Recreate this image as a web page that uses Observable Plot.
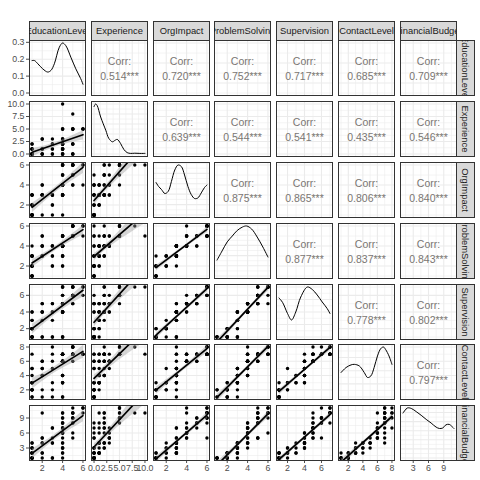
<!DOCTYPE html>
<html>
<head>
<meta charset="utf-8">
<script src="https://cdn.jsdelivr.net/npm/d3@7"></script>
<script src="https://cdn.jsdelivr.net/npm/@observablehq/plot@0.6"></script>
<style>
html,body{margin:0;padding:0;background:#fff;}
#chart{position:relative;width:480px;height:480px;overflow:hidden;background:#fff;}
#chart svg{position:absolute;max-width:none;overflow:visible;background:none;}
</style>
</head>
<body>
<div id="chart"></div>
<script>
// ---- data (66 jobs) ----
const names = ["EducationLevel","Experience","OrgImpact","ProblemSolving","Supervision","ContactLevel","FinancialBudget"];
const educationLevel = [1,1,1,1,1,1,1,1,1,1,1,1,1,1,1, 2,2,2,2,2,2,2,2, 3,3,3,3,3,3,3, 4,4,4,4,4,4,4,4,4,4,4,4,4,4,4,4,4,4,4,4,4,4, 5,5,5,5,5,5,5,5,5,5,5, 6,6,6];
const experience = [0,0,0,0,0,0,1,0,1,0,1,2,1,2,0, 0,0,1,1,3,0,1,3, 0,0,1,2,3,1,2, 0,0,1,0,1,2,1,2,2,1,3,2,0,3,2,1,5,3,5,2,10,5, 0,2,0,2,5,5,2,8,5,5,0, 5,5,5];
const orgImpact = [1,1,1,1,1,1,2,1,2,2,3,3,3,3,2, 1,3,3,3,3,3,4,4, 1,2,2,3,3,3,3, 1,3,3,3,3,3,3,3,4,4,4,4,4,5,5,4,5,6,6,6,6,6, 4,5,5,5,6,6,6,6,6,6,4, 4,6,6];
const problemSolving = [1,1,1,1,2,2,2,2,2,3,3,3,3,4,3, 3,3,3,4,4,4,5,5, 2,2,3,3,4,4,4, 2,2,3,3,3,3,4,4,4,4,4,4,4,4,4,4,5,5,5,5,5,5, 5,5,5,5,5,6,6,6,6,6,6, 5,6,6];
const supervision = [1,1,1,1,1,2,2,2,2,2,3,3,4,4,2, 1,1,3,4,4,4,5,5, 1,1,3,4,4,5,5, 1,1,1,4,4,4,4,4,4,4,5,5,5,5,5,5,5,6,6,7,7,7, 5,6,6,6,6,6,7,7,7,7,5, 6,7,7];
const contactLevel = [1,1,2,2,2,2,2,3,3,3,3,4,5,7,5, 1,2,4,4,5,5,6,6, 1,2,3,5,6,7,8, 1,1,3,3,3,4,4,4,6,6,6,6,6,6,6,7,7,7,7,7,7,7, 6,7,7,7,7,8,7,8,8,8,7, 7,7,7];
const financialBudget = [1,1,1,1,2,1,2,2,2,3,2,3,4,4,3, 1,2,2,4,4,5,10,5, 1,1,4,4,5,7,7, 1,2,2,3,3,4,4,3,6,6,6,7,7,7,8,8,9,5,9,10,10,8, 5,8,8,9,9,9,10,10,10,11,6, 11,11,10];

// correlation labels, upper triangle, row by row
const corrLabels = ["0.514***","0.720***","0.752***","0.717***","0.685***","0.709***",
  "0.639***","0.544***","0.541***","0.435***","0.546***",
  "0.875***","0.865***","0.806***","0.840***",
  "0.877***","0.837***","0.843***",
  "0.778***","0.802***",
  "0.797***"];

// axis tick values
const ticksEducationLevel = [2,4,6];
const ticksExperience = [0,2.5,5,7.5,10];
const ticksOrgImpact = [2,4,6];
const ticksProblemSolving = [2,4,6];
const ticksSupervision = [2,4,6];
const ticksContactLevel = [2,4,6,8];
const ticksFinancialBudget = [3,6,9];

// diagonal density curves: [value, density]
const densEducationLevel = [[1,0.192],[1.24,0.192],[1.57,0.173],[2.05,0.143],[2.54,0.124],[2.86,0.134],[3.19,0.173],[3.68,0.271],[4.0,0.296],[4.32,0.28],[4.81,0.212],[5.3,0.143],[5.78,0.085],[6,0.052]];
const densExperience = [[0,0.237],[0.3,0.25],[0.6,0.243],[1.3,0.185],[2.3,0.119],[2.9,0.078],[3.6,0.061],[4.1,0.068],[4.55,0.073],[5.2,0.053],[5.85,0.023],[6.5,0.007],[7.2,0.003],[8,0.004],[9,0.003],[10,0.003]];
const densOrgImpact = [[1,0.156],[1.25,0.137],[1.54,0.122],[1.87,0.103],[2.19,0.113],[2.51,0.161],[2.84,0.216],[3.16,0.24],[3.48,0.233],[3.8,0.192],[4.13,0.137],[4.46,0.098],[4.79,0.079],[5.11,0.082],[5.44,0.106],[5.76,0.132],[6,0.144]];
const densProblemSolving = [[1,0.078],[1.5,0.123],[2,0.167],[2.5,0.196],[2.98,0.223],[3.5,0.24],[3.9,0.245],[4.4,0.23],[4.94,0.191],[5.5,0.142],[6,0.093]];
const densSupervision = [[1,0.156],[1.42,0.138],[2.0,0.094],[2.47,0.068],[2.97,0.1],[3.56,0.16],[4.34,0.2],[4.92,0.19],[5.5,0.168],[6.09,0.14],[6.67,0.114],[7,0.094]];
const densContactLevel = [[1,0.093],[1.69,0.112],[2.38,0.122],[2.83,0.124],[3.51,0.118],[4.19,0.093],[4.65,0.074],[5.1,0.08],[5.55,0.112],[6.01,0.156],[6.46,0.184],[6.83,0.19],[7.14,0.18],[7.59,0.156],[8,0.124]];
const densFinancialBudget = [[1,0.099],[1.84,0.11],[2.62,0.109],[3.59,0.102],[4.56,0.094],[5.54,0.085],[6.51,0.077],[7.49,0.068],[8.13,0.065],[8.79,0.066],[9.43,0.073],[10.08,0.074],[10.54,0.07],[11,0.065]];

// ---- build ----
const cols = [educationLevel, experience, orgImpact, problemSolving, supervision, contactLevel, financialBudget];
const tickSets = [ticksEducationLevel, ticksExperience, ticksOrgImpact, ticksProblemSolving, ticksSupervision, ticksContactLevel, ticksFinancialBudget];
const densSets = [densEducationLevel, densExperience, densOrgImpact, densProblemSolving, densSupervision, densContactLevel, densFinancialBudget];
const data = educationLevel.map((_, i) => Object.fromEntries(names.map((n, k) => [n, cols[k][i]])));
const doms = cols.map(v => { const [a, b] = d3.extent(v); const p = 0.05 * (b - a); return [a - p, b + p]; });
const fmts = names.map(n => n === "Experience" ? d3.format(".1f") : d3.format("d"));

const chart = document.getElementById("chart");
const FONT = "'Liberation Sans', Arial, Helvetica, sans-serif";
const PW = 56, PH = 55;
const L = d3.range(7).map(c => Math.round(28 + 61.8 * c) + 0.5);
const T = d3.range(7).map(r => Math.round(39.3 + 60.8 * r) + 0.5);
const baseStyle = {fontFamily: FONT, fontSize: "8.8px", color: "#4d4d4d", background: "none", overflow: "visible"};

function put(svg, x, y) {
  svg.style.position = "absolute";
  svg.style.left = x + "px";
  svg.style.top = y + "px";
  chart.appendChild(svg);
}
function minors(t, d) {
  const s = t[1] - t[0];
  return [t[0] - s / 2, ...t.map(v => v + s / 2)].filter(v => v > d[0] && v < d[1]);
}
function grid(xt, xd, yt, yd) {
  const g = "#ebebeb";
  return [
    Plot.ruleX(minors(xt, xd), {stroke: g, strokeWidth: 0.55}),
    Plot.ruleY(minors(yt, yd), {stroke: g, strokeWidth: 0.55}),
    Plot.ruleX(xt.filter(v => v >= xd[0] && v <= xd[1]), {stroke: g, strokeWidth: 1.1}),
    Plot.ruleY(yt.filter(v => v >= yd[0] && v <= yd[1]), {stroke: g, strokeWidth: 1.1})
  ];
}

let k = 0;
const corrIndex = {};
for (let r = 0; r < 7; r++) for (let c = r + 1; c < 7; c++) corrIndex[r + "," + c] = k++;

for (let r = 0; r < 7; r++) {
  for (let c = 0; c < 7; c++) {
    const xn = names[c], yn = names[r];
    const xd = doms[c], xt = tickSets[c];
    let yd, yt, yf, marks;
    if (r === c) {
      const dens = densSets[c];
      const m = d3.max(dens, d => d[1]);
      yd = [-0.05 * m, 1.05 * m];
      yt = d3.ticks(0, yd[1], 4);
      yf = d3.format(".1f");
      marks = [...grid(xt, xd, yt, yd),
        Plot.line(dens, {x: d => d[0], y: d => d[1], curve: "catmull-rom", stroke: "black", strokeWidth: 1})];
    } else if (r < c) {
      yd = doms[r]; yt = tickSets[r]; yf = fmts[r];
      const lab = corrLabels[corrIndex[r + "," + c]];
      marks = [...grid(xt, xd, yt, yd),
        Plot.text(["Corr:"], {frameAnchor: "middle", text: d => d, dy: -6.5, fontSize: 10.5, fill: "#7a7672"}),
        Plot.text([lab], {frameAnchor: "middle", text: d => d, dy: 8.5, fontSize: 10.5, fill: "#7a7672"})];
    } else {
      yd = doms[r]; yt = tickSets[r]; yf = fmts[r];
      marks = [...grid(xt, xd, yt, yd),
        Plot.dot(data, {x: xn, y: yn, r: 1.7, fill: "black", stroke: "none", clip: true}),
        Plot.linearRegressionY(data, {x: xn, y: yn, stroke: "black", strokeWidth: 1.7, fill: "#999999", fillOpacity: 0.4, clip: true})];
    }
    marks.push(Plot.frame({stroke: "#333333", strokeWidth: 1}));
    const svg = Plot.plot({
      width: PW, height: PH, margin: 0,
      style: baseStyle,
      x: {domain: xd, ticks: xt, tickFormat: fmts[c], axis: r === 6 ? "bottom" : null, tickSize: 3, tickPadding: 1.5, label: null},
      y: {domain: yd, ticks: yt, tickFormat: yf, axis: c === 0 ? "left" : null, tickSize: 3, tickPadding: 2, label: null},
      marks
    });
    put(svg, L[c], T[r]);
  }
}

// top strips
names.forEach((n, c) => {
  const svg = Plot.plot({
    width: PW, height: 19, margin: 0, style: baseStyle,
    marks: [
      Plot.frame({fill: "#d9d9d9", stroke: "#333333", strokeWidth: 1}),
      Plot.text([n], {frameAnchor: "middle", text: d => d, fontSize: 9.4, fill: "#1a1a1a", clip: true})
    ]
  });
  put(svg, L[c], 20.5);
});
// right strips
names.forEach((n, r) => {
  const svg = Plot.plot({
    width: 18, height: PH, margin: 0, style: baseStyle,
    marks: [
      Plot.frame({fill: "#d9d9d9", stroke: "#333333", strokeWidth: 1}),
      Plot.text([n], {frameAnchor: "middle", text: d => d, rotate: 90, fontSize: 9.4, fill: "#1a1a1a", clip: true})
    ]
  });
  put(svg, L[6] + PW, T[r]);
});
</script>
</body>
</html>
